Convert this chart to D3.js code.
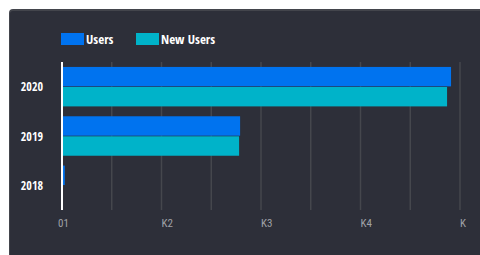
<!DOCTYPE html>
<html>
<head>
<meta charset="utf-8">
<script src="https://cdn.jsdelivr.net/npm/d3@7"></script>
<style>
  html, body { margin: 0; padding: 0; background: #ffffff; }
  svg { display: block; }
  text { font-family: "Open Sans Condensed", "Roboto Condensed", sans-serif; font-stretch: condensed; }
  .tick-label { font-family: "Roboto Condensed", "Liberation Sans Narrow", sans-serif; }
</style>
</head>
<body>
<div id="chart"></div>
<script>
// Data
const years = ["2020", "2019", "2018"];
const seriesNames = ["Users", "New Users"];
const users = [3910, 1790, 28];
const newUsers = [3870, 1780, 0];
const tickValues = [0, 1000, 2000, 3000, 4000];
const tickLabels = ["01", "K2", "K3", "K4", "K"];

const colors = ["#0073ef", "#00b3c9"];

const width = 480, height = 255;
const svg = d3.select("#chart").append("svg")
    .attr("width", width)
    .attr("height", height);

// Panel
svg.append("rect")
    .attr("x", 9).attr("y", 9)
    .attr("width", 480).attr("height", 260)
    .attr("rx", 4)
    .attr("fill", "#43454c");
svg.append("rect")
    .attr("x", 10).attr("y", 11)
    .attr("width", 480).attr("height", 260)
    .attr("rx", 3)
    .attr("fill", "#2d2f39");

const x = d3.scaleLinear().domain([0, 4000]).range([62, 460]);
const y = d3.scaleBand().domain(years).range([62, 210]).paddingInner(0.2).paddingOuter(0.1);
const sub = d3.scaleBand().domain(seriesNames).range([0, y.bandwidth()]).paddingInner(0.03);

// Gridlines
svg.append("g").selectAll("line")
    .data(d3.range(500, 4001, 500))
    .join("line")
    .attr("x1", d => x(d)).attr("x2", d => x(d))
    .attr("y1", 62).attr("y2", 210)
    .attr("stroke", "#45474d")
    .attr("stroke-width", 1.5);

// Bars
const rows = years.map((yr, i) => ({ year: yr, values: [users[i], newUsers[i]] }));
const groups = svg.append("g").selectAll("g")
    .data(rows)
    .join("g")
    .attr("transform", d => `translate(0,${y(d.year)})`);

groups.selectAll("rect")
    .data(d => d.values.map((v, j) => ({ name: seriesNames[j], value: v, color: colors[j] })))
    .join("rect")
    .attr("x", x(0))
    .attr("y", d => sub(d.name))
    .attr("width", d => x(d.value) - x(0))
    .attr("height", sub.bandwidth())
    .attr("fill", d => d.color);

// Zero axis line
svg.append("line")
    .attr("x1", x(0)).attr("x2", x(0))
    .attr("y1", 62).attr("y2", 210)
    .attr("stroke", "#ffffff")
    .attr("stroke-width", 2);

// Year labels
svg.append("g").selectAll("text")
    .data(years)
    .join("text")
    .attr("x", 43)
    .attr("y", d => y(d) + y.bandwidth() / 2)
    .attr("text-anchor", "end")
    .attr("dominant-baseline", "central")
    .attr("fill", "#ffffff")
    .attr("font-size", 12)
    .attr("font-weight", "bold")
    .text(d => d);

// Tick labels
svg.append("g").selectAll("text")
    .data(tickValues)
    .join("text")
    .attr("class", "tick-label")
    .attr("x", (d, i) => i === 0 ? x(d) - 4 : x(d))
    .attr("y", 223)
    .attr("text-anchor", "start")
    .attr("dominant-baseline", "central")
    .attr("fill", "#a0a2a8")
    .attr("font-size", 11)
    .text((d, i) => tickLabels[i]);

// Legend
const legendX = [61, 136];
const legend = svg.append("g").selectAll("g")
    .data(seriesNames)
    .join("g")
    .attr("transform", (d, i) => `translate(${legendX[i]},33)`);
legend.append("rect")
    .attr("width", 23).attr("height", 12)
    .attr("fill", (d, i) => colors[i]);
legend.append("text")
    .attr("x", 25).attr("y", 6)
    .attr("dominant-baseline", "central")
    .attr("fill", "#ffffff")
    .attr("font-size", 13)
    .attr("font-weight", "bold")
    .text(d => d);
</script>
</body>
</html>
